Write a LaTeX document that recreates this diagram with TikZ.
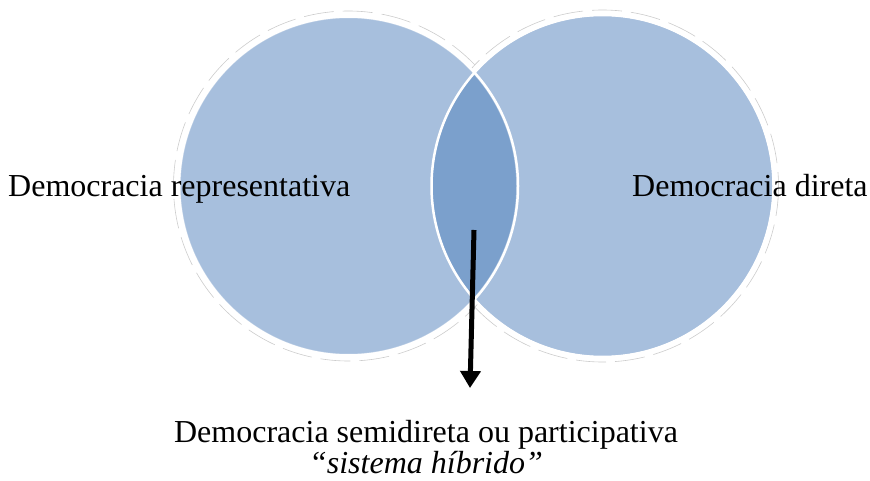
\documentclass[tikz,border=0pt]{standalone}
\usepackage{fontspec}
\setmainfont{Liberation Serif}
\usetikzlibrary{arrows.meta}
\definecolor{venn}{HTML}{A7BFDD}
\definecolor{lens}{HTML}{7BA0CC}
\tikzset{
  lbl/.style={inner sep=0pt, font=\fontsize{32}{38}\selectfont},
  ring/.style={draw=gray!40, line width=0.6pt, dash pattern=on 30pt off 9pt},
  rim/.style={draw=white, line width=2.5pt},
}
\begin{document}
\begin{tikzpicture}[x=1pt,y=-1pt]
\useasboundingbox (0,0) rectangle (870,481);
% outer faint rings
\draw[ring] (348.5,186) circle (175);
\draw[ring] (602.5,186) circle (176);
% circles
\fill[venn] (348.5,186) circle (168.5);
\fill[venn] (602.5,186) circle (170);
\begin{scope}
  \clip (348.5,186) circle (168.5);
  \fill[lens] (602.5,186) circle (170);
\end{scope}
\draw[rim] (348.5,186) circle (169.5);
\begin{scope}
  \clip (348.5,186) circle (168.5);
  \draw[draw=white, opacity=0.35, line width=1.5pt] (348.5,186) circle (168.5);
\end{scope}
\draw[rim] (602.5,186) circle (171);
% labels
\node[lbl, anchor=base west] (rep) at (8,197) {Democracia representativa};
\node[lbl, anchor=base west] (dir) at (632,197) {Democracia direta};
\node[lbl, anchor=base] (semi) at (426,442) {Democracia semidireta ou participativa};
\node[lbl, anchor=base] (hib) at (426,473) {\itshape “sistema híbrido”};
% arrow
\coordinate (a0) at (474,230);
\coordinate (a1) at (470,388);
\draw[line width=5pt, -{Triangle[width=20pt,length=17pt]}] (a0) -- (a1);
\end{tikzpicture}
\end{document}
